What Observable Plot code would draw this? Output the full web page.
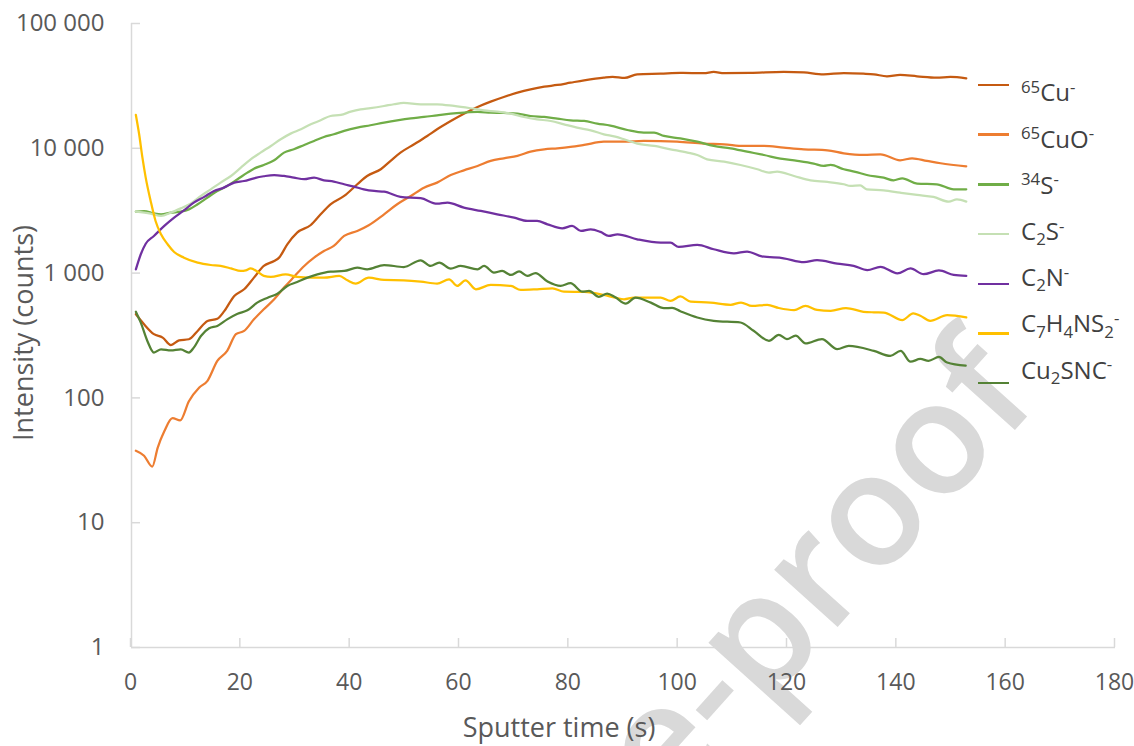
<!DOCTYPE html>
<html>
<head>
<meta charset="utf-8">
<script src="https://cdn.jsdelivr.net/npm/d3@7"></script>
<script src="https://cdn.jsdelivr.net/npm/@observablehq/plot@0.6"></script>
<style>
  body { margin: 0; background: #fff; }
  #chart { position: relative; width: 1134px; height: 746px; overflow: hidden; font-family: "Open Sans", sans-serif; }
  #chart svg { position: absolute; left: 0; top: 0; }
  .legend-line { position: absolute; height: 2.5px; }
  .legend-text { position: absolute; font-size: 24px; line-height: 24px; color: #404040; white-space: nowrap; }
  .legend-text sup, .legend-text sub { font-size: 0.7em; position: relative; vertical-align: baseline; line-height: 0; }
  .legend-text sup { top: -0.5em; }
  .legend-text sub { top: 0.32em; }
</style>
</head>
<body>
<div id="chart"></div>
<script>
// Depth profile: sputter time (s) vs. intensity (counts), one [time, counts] pair per point
const cu65 = [[0.8,468],[2.3,389],[4.1,324],[5.7,304],[7.2,265],[8.7,289],[10.5,295],[12.1,344],[13.9,413],[15.7,431],[17.0,498],[18.8,656],[20.6,742],[22.4,920],[24.2,1141],[26.1,1251],[27.0,1330],[28.5,1702],[30.3,2110],[32.8,2430],[34.6,2960],[36.4,3560],[38.9,4150],[41.3,5150],[43.1,6000],[45.6,6790],[47.4,7930],[49.2,9230],[51.7,10770],[54.1,12550],[55.9,14200],[58.4,16550],[60.8,18950],[63.3,21430],[65.7,23650],[68.1,25770],[70.6,27920],[73.0,29700],[75.5,31200],[77.9,32160],[80.3,33560],[82.8,35050],[86.4,36830],[88.0,37300],[90.2,36600],[92.5,39150],[96.8,39650],[100.4,40150],[104.7,40000],[106.5,40950],[108.4,40000],[113.2,40150],[119.3,40950],[123.0,40500],[126.6,39150],[130.3,40000],[133.9,39600],[135.8,39150],[138.2,37750],[140.6,38700],[143.7,37750],[147.3,36830],[149.8,37300],[152.7,36400]];
const cuo65 = [[0.8,37.7],[2.3,34.4],[3.8,28.2],[4.8,40],[6.0,54],[7.5,68.8],[8.9,66],[10.5,94],[12.4,121],[13.9,137],[15.7,198],[17.5,238],[19.1,324],[20.6,344],[22.4,426],[24.2,513],[26.1,617],[27.9,765],[29.7,931],[31.6,1141],[33.4,1330],[35.2,1503],[37.0,1650],[38.9,1985],[41.3,2177],[43.4,2420],[46.2,2960],[48.6,3560],[51.1,4150],[53.5,4840],[55.9,5310],[58.4,6110],[60.8,6660],[63.3,7220],[65.7,7930],[68.1,8320],[70.6,8690],[73.0,9400],[75.5,9820],[77.9,10000],[80.3,10250],[82.8,10640],[86.4,11300],[90.1,11300],[93.7,11450],[99.8,11300],[104.7,10900],[108.4,10770],[112.0,10440],[115.7,10440],[119.3,10120],[123.0,9820],[127.3,9640],[130.3,9120],[133.9,8840],[137.0,8950],[140.6,8020],[142.8,8320],[145.5,7930],[148.0,7590],[152.7,7180]];
const s34 = [[0.8,3110],[2.3,3140],[4.1,3010],[5.4,2960],[7.2,3050],[9.0,3110],[10.5,3240],[12.1,3560],[13.9,4030],[15.7,4550],[17.5,4990],[19.4,5650],[21.2,6380],[22.4,6870],[24.2,7350],[26.1,8010],[27.9,9230],[29.7,9820],[31.6,10640],[33.4,11450],[35.2,12330],[37.0,12950],[38.9,13780],[41.3,14650],[43.7,15300],[46.2,16070],[48.6,16760],[51.1,17390],[53.5,17820],[55.9,18380],[58.4,18950],[60.8,19310],[63.3,19540],[65.7,19310],[68.1,19190],[70.6,18950],[73.0,18150],[75.5,17820],[77.9,17290],[80.3,16760],[82.8,16550],[85.2,15780],[87.6,15200],[90.7,14020],[93.7,13360],[95.6,13360],[97.4,12560],[100.4,12020],[103.5,11300],[106.5,10440],[109.6,10000],[112.6,9400],[115.7,8840],[118.7,8260],[121.8,7930],[124.8,7540],[126.6,7220],[127.9,7350],[130.3,6790],[132.4,6480],[134.5,6110],[137.6,5820],[139.4,5540],[141.0,5750],[143.7,5210],[147.3,5150],[150.4,4690],[152.7,4690]];
const c2s = [[0.8,3110],[3.5,3000],[5.4,2870],[7.2,3050],[9.0,3300],[10.8,3600],[12.7,4150],[14.5,4690],[16.3,5310],[18.2,6000],[20.0,7000],[21.8,8160],[23.6,9230],[25.5,10440],[27.3,11810],[29.1,13110],[31.0,14200],[32.8,15570],[34.6,16760],[36.4,18150],[38.3,18500],[40.1,19670],[41.9,20530],[43.7,21000],[46.2,21830],[48.0,22540],[49.8,23080],[52.9,22540],[55.9,22540],[59.0,21830],[62.0,20940],[64.5,20140],[66.9,19670],[69.4,18950],[71.8,17820],[74.2,17070],[76.7,16550],[79.1,15570],[81.5,14650],[84.0,13930],[86.4,12950],[88.5,12400],[90.1,11810],[92.5,10900],[95.6,10440],[98.6,9820],[101.7,9230],[103.5,8840],[105.3,8160],[108.4,7820],[111.4,7350],[114.5,6790],[116.6,6380],[118.1,6500],[121.2,6000],[124.2,5540],[127.3,5380],[130.3,5150],[131.5,4990],[133.3,5050],[134.5,4690],[137.6,4600],[140.6,4410],[143.7,4230],[146.7,4080],[149.5,3740],[151.0,3900],[152.7,3740]];
const c2n = [[0.8,1072],[1.7,1416],[2.6,1720],[4.1,1985],[6.0,2388],[7.8,2782],[9.6,3180],[11.4,3670],[13.3,4080],[15.1,4550],[16.9,4840],[18.8,5310],[20.6,5470],[22.4,5750],[24.2,5970],[26.1,6110],[27.9,6000],[29.7,5820],[31.6,5650],[33.4,5820],[35.2,5540],[37.0,5410],[38.9,5150],[40.7,4930],[42.5,4690],[44.4,4550],[46.2,4500],[49.2,4080],[52.9,3980],[55.9,3600],[57.8,3670],[60.8,3350],[63.9,3150],[66.9,2960],[70.0,2782],[72.4,2616],[74.2,2616],[76.1,2460],[78.8,2285],[80.6,2388],[82.2,2177],[84.0,2245],[85.8,2138],[87.3,1985],[88.9,2047],[92.5,1866],[96.8,1754],[98.6,1754],[100.1,1619],[103.5,1680],[106.5,1552],[110.2,1440],[112.6,1488],[115.3,1360],[119.3,1314],[123.0,1225],[125.4,1270],[129.1,1191],[132.1,1144],[134.6,1057],[137.0,1123],[140.1,995],[142.5,1089],[144.9,980],[147.7,1050],[150.4,966],[152.7,950]];
const c7h4ns2 = [[0.8,18500],[1.4,12950],[2.0,8420],[2.6,5820],[3.5,3790],[4.4,2616],[5.4,2047],[6.6,1702],[7.8,1476],[9.6,1330],[12.1,1213],[14.5,1161],[16.3,1141],[18.2,1091],[20.0,1040],[20.9,1052],[21.8,1091],[23.0,1030],[24.2,949],[25.5,931],[28.2,977],[30.3,931],[32.8,920],[35.2,920],[38.0,949],[39.5,875],[41.0,824],[43.4,920],[46.2,881],[49.8,875],[52.9,855],[55.9,824],[58.1,892],[59.6,789],[61.1,875],[63.0,742],[65.7,804],[69.4,789],[71.2,733],[74.2,742],[77.0,755],[79.1,710],[82.8,706],[86.4,668],[88.5,636],[90.1,617],[91.9,636],[96.8,636],[98.6,598],[100.4,650],[102.3,590],[105.9,580],[109.6,557],[111.5,581],[113.5,545],[116.3,556],[118.4,525],[121.2,505],[123.3,545],[125.4,507],[127.9,499],[130.7,525],[133.9,490],[135.8,485],[137.6,483],[141.0,420],[143.0,475],[144.3,455],[146.1,415],[149.2,461],[152.7,441]];
const cu2snc = [[0.8,491],[1.7,401],[2.9,286],[4.1,231],[5.4,245],[7.2,240],[9.0,245],[10.5,231],[11.4,253],[12.7,313],[14.2,361],[15.7,377],[17.5,426],[19.4,473],[21.2,503],[23.0,580],[24.9,635],[26.7,684],[28.5,789],[30.3,849],[32.2,920],[34.0,977],[36.4,1028],[38.9,1040],[41.3,1106],[43.1,1072],[46.2,1161],[49.8,1119],[52.9,1267],[54.7,1141],[56.3,1213],[58.4,1087],[60.2,1141],[63.3,1072],[64.5,1141],[66.3,1009],[67.8,1040],[69.4,966],[70.9,1030],[72.4,949],[73.9,1000],[76.1,855],[78.5,789],[80.3,830],[82.5,710],[83.7,720],[85.5,644],[87.0,684],[88.5,640],[90.4,569],[92.2,636],[95.0,580],[97.4,523],[98.9,527],[100.4,495],[103.5,441],[106.5,415],[111.4,402],[113.8,345],[116.6,287],[118.4,320],[119.9,296],[121.5,315],[123.3,273],[126.3,296],[129.1,246],[131.2,261],[135.8,238],[138.8,217],[140.7,238],[142.5,195],[144.3,205],[145.8,198],[147.7,213],[149.2,192],[152.6,181]];

const seriesNames = ["65Cu-", "65CuO-", "34S-", "C2S-", "C2N-", "C7H4NS2-", "Cu2SNC-"];
const seriesLabels = [
  "<sup>65</sup>Cu<sup>-</sup>",
  "<sup>65</sup>CuO<sup>-</sup>",
  "<sup>34</sup>S<sup>-</sup>",
  "C<sub>2</sub>S<sup>-</sup>",
  "C<sub>2</sub>N<sup>-</sup>",
  "C<sub>7</sub>H<sub>4</sub>NS<sub>2</sub><sup>-</sup>",
  "Cu<sub>2</sub>SNC<sup>-</sup>"
];
const seriesColors = ["#C55A11", "#ED7D31", "#70AD47", "#C5E0B4", "#7030A0", "#FFC000", "#548235"];
const seriesData = [cu65, cuo65, s34, c2s, c2n, c7h4ns2, cu2snc];

const xTicks = [0, 20, 40, 60, 80, 100, 120, 140, 160, 180];
const yTicks = [1, 10, 100, 1000, 10000, 100000];
const xTitle = "Sputter time (s)";
const yTitle = "Intensity (counts)";
const watermark = "Journal Pre-proof";

const rows = seriesData.flatMap((pts, i) => pts.map(([t, v]) => ({t, v, name: seriesNames[i]})));
const groupThousands = d => String(d).replace(/\B(?=(\d{3})+(?!\d))/g, " ");

const W = 1134, H = 746;
const axisGray = "#D9D9D9";
const labelGray = "#595959";

const chart = Plot.plot({
  width: W,
  height: H,
  marginLeft: 131,
  marginRight: 19,
  marginTop: 23,
  marginBottom: 99,
  style: {fontFamily: "'Open Sans', sans-serif", fontSize: "24px", background: "transparent", overflow: "visible"},
  x: {domain: [0, 180]},
  y: {type: "log", domain: [1, 100000]},
  color: {domain: seriesNames, range: seriesColors},
  marks: [
    Plot.ruleX([0], {stroke: axisGray, strokeWidth: 1.5}),
    Plot.ruleY([1], {stroke: axisGray, strokeWidth: 1.5}),
    Plot.axisX({ticks: xTicks, tickSize: -9, tickPadding: 35, tickFormat: d => String(d),
                stroke: axisGray, strokeWidth: 1.5, fill: labelGray, fontSize: 23, dx: -1, label: null}),
    Plot.axisY({ticks: yTicks, tickSize: -9, tickPadding: 36, tickFormat: groupThousands,
                stroke: axisGray, strokeWidth: 1.5, fill: labelGray, fontSize: 24, label: null}),
    Plot.line(rows, {x: "t", y: "v", z: "name", stroke: "name", strokeWidth: 2.25, curve: "monotone-x"})
  ]
});

const root = document.getElementById("chart");

// faint diagonal watermark behind the plot
const back = d3.create("svg").attr("width", W).attr("height", H);
back.append("text")
  .attr("x", 1042).attr("y", 400)
  .attr("transform", "rotate(-48 1042 400)")
  .attr("text-anchor", "end")
  .attr("font-family", "'Open Sans', sans-serif")
  .attr("font-weight", 600)
  .attr("font-size", 158)
  .attr("fill", "#D9D9D9")
  .text(watermark);
root.appendChild(back.node());
root.appendChild(chart);

// axis titles
const svg = d3.select(chart);
svg.append("text")
  .attr("x", 559).attr("y", 737)
  .attr("text-anchor", "middle")
  .attr("fill", labelGray)
  .attr("font-size", 27)
  .text(xTitle);
svg.append("text")
  .attr("transform", "translate(33,333) rotate(-90)")
  .attr("text-anchor", "middle")
  .attr("fill", labelGray)
  .attr("font-size", 27)
  .text(yTitle);

// legend: short line swatch plus formula label for each series
seriesNames.forEach((name, i) => {
  const line = document.createElement("div");
  line.className = "legend-line";
  line.style.left = "978px";
  line.style.width = "31px";
  line.style.top = (85 + i * 49.7 - 1.25) + "px";
  line.style.background = seriesColors[i];
  root.appendChild(line);

  const label = document.createElement("div");
  label.className = "legend-text";
  label.style.left = "1021px";
  label.style.top = (93 + i * 46.2 - 12.7) + "px";
  label.innerHTML = seriesLabels[i];
  root.appendChild(label);
});
</script>
</body>
</html>
